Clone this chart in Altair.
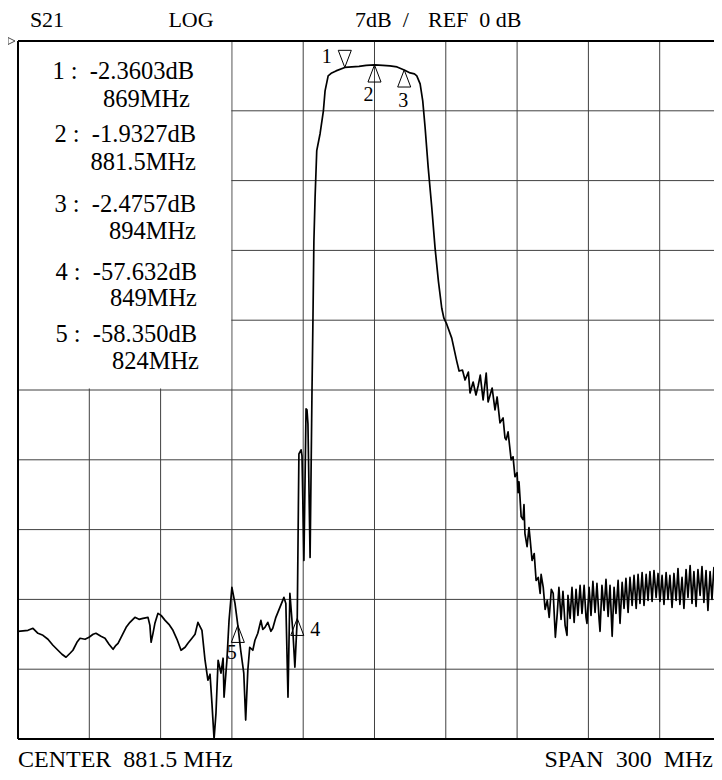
import altair as alt
import pandas as pd

# ---- trace ----
freq_mhz = [
    731.5, 735.7, 737.8, 739.9, 742.0, 744.1, 746.2, 748.3, 750.0, 751.7, 753.4, 754.6, 756.3, 757.6,
    759.7, 761.4, 763.1, 764.3, 766.4, 768.1, 769.8, 771.5, 772.7, 773.6, 775.3, 777.0, 778.6, 780.7,
    782.4, 784.1, 786.2, 787.0, 787.5, 788.3, 789.1, 790.4, 791.7, 793.4, 795.0, 796.7, 798.4, 800.1,
    801.8, 803.0, 804.7, 806.0, 807.2, 808.9, 810.2, 811.4, 812.3, 813.1, 814.0, 814.8, 815.7, 816.9,
    817.8, 818.2, 819.4, 820.3, 821.5, 822.8, 824.0, 825.2, 826.5, 827.3, 828.2, 829.0, 830.3, 831.2,
    832.4, 833.7, 834.5, 835.4, 836.6, 837.9, 838.7, 840.0, 841.7, 843.4, 844.2, 845.1, 845.9, 847.2,
    848.0, 849.0, 849.7, 850.6, 851.0, 851.8, 852.7, 853.1, 853.5, 854.4, 855.2, 855.6, 856.0, 856.5,
    857.2, 858.6, 860.0, 860.7, 862.0, 863.5, 865.3, 869.0, 872.0, 875.0, 878.0, 881.5, 885.0, 888.0,
    891.0, 894.0, 896.5, 898.3, 899.3, 900.7, 901.8, 902.8, 904.1, 905.6, 907.0, 908.4, 909.8, 910.7,
    911.9, 914.0, 916.1, 917.1, 918.5, 919.6, 921.0, 921.7, 923.0, 924.2, 925.1, 926.0, 927.2, 928.5,
    929.3, 931.0, 932.2, 933.1, 934.3, 935.6, 936.4, 936.9, 937.7, 939.0, 939.8, 940.6, 941.5, 941.9,
    942.3, 942.7, 943.2, 944.0, 944.4, 944.8, 945.7, 946.5, 947.0, 947.8, 948.7, 949.5, 950.4, 951.2,
    951.6, 952.5, 953.3, 954.2, 955.0, 955.9, 956.7, 957.6, 958.4,
    959.1, 960.0, 960.8, 961.7, 962.5, 962.9, 963.8, 964.6, 965.5, 966.3, 967.1, 968.0, 968.8, 969.7,
    970.5, 970.9, 971.8, 972.6, 973.4, 974.3, 975.1, 976.0, 976.4, 977.2, 978.1, 978.9, 979.8, 980.6,
    981.5, 982.3, 983.1, 984.0, 984.8, 985.7, 986.5, 987.3, 988.2, 989.0, 989.9, 990.7, 991.6, 992.4,
    993.2, 994.1, 994.9, 995.8, 996.6, 997.4, 998.3, 999.1, 1000.0, 1000.8, 1001.6, 1002.5, 1003.3,
    1004.2, 1005.0, 1005.8, 1006.7, 1007.5, 1008.4, 1009.2, 1010.0, 1010.9, 1011.7, 1012.6, 1013.4,
    1014.3, 1015.1, 1015.9, 1016.8, 1017.6, 1018.5, 1019.3, 1020.1, 1021.0, 1021.8, 1022.7, 1023.5,
    1024.3, 1025.2, 1026.0, 1026.8, 1027.7, 1028.5,
]
s21_db = [
    -59.2, -59.1, -58.9, -59.4, -59.6, -60.0, -60.6, -61.1, -61.5, -61.8, -61.4, -61.1, -60.3, -59.9,
    -60.0, -59.8, -59.5, -59.4, -59.7, -59.9, -60.5, -61.0, -60.6, -60.4, -59.6, -58.8, -58.3, -57.8,
    -58.0, -57.9, -57.8, -58.6, -60.3, -59.4, -58.4, -57.4, -57.6, -58.1, -58.5, -59.1, -60.0, -61.1,
    -60.8, -60.4, -59.9, -59.5, -58.3, -59.1, -62.1, -64.1, -63.5, -66.4, -70.0, -67.4, -62.1, -63.4,
    -61.9, -65.8, -62.1, -58.1, -54.8, -56.4, -58.6, -61.1, -63.4, -68.1, -63.1, -60.8, -61.1, -60.1,
    -59.4, -58.1, -59.0, -58.8, -58.3, -59.2, -58.9, -57.8, -56.8, -55.8, -56.4, -65.8, -55.4, -59.4,
    -62.8, -57.9, -41.4, -41.0, -41.6, -52.1, -36.9, -37.0, -38.4, -51.8, -35.1, -28.0, -20.1, -15.7,
    -11.0, -9.3, -7.0, -5.0, -3.5, -3.2, -3.0, -2.65, -2.6, -2.55, -2.45, -2.4, -2.45, -2.5,
    -2.6, -2.9, -3.2, -3.3, -3.5, -4.3, -6.0, -8.7, -12.7, -16.7, -20.8, -24.1, -26.8, -27.8,
    -28.4, -29.8, -32.1, -33.1, -33.0, -34.0, -33.2, -35.3, -34.2, -35.5, -34.6, -33.5, -36.0, -33.3,
    -36.2, -34.8, -37.0, -35.7, -38.3, -37.8, -39.8, -40.0, -39.2, -42.0, -41.7, -43.7, -43.3, -45.3,
    -44.2, -45.7, -47.7, -48.0, -46.5, -49.4, -50.7, -48.8, -50.0, -52.1, -51.4, -54.1, -53.8, -55.4,
    -53.5, -54.8, -57.0, -56.1, -57.8, -55.0, -55.4, -59.8, -57.4,
    -54.8, -58.0, -55.2, -58.6, -59.6, -55.6, -57.9, -54.8, -58.3, -55.0, -57.6, -54.6, -57.4, -54.6,
    -57.8, -58.4, -54.8, -57.6, -54.2, -57.3, -54.4, -58.0, -59.2, -54.6, -57.1, -54.0, -57.7, -54.6,
    -59.7, -54.8, -57.4, -54.1, -58.4, -54.3, -56.9, -53.9, -57.3, -53.8, -56.6, -53.6, -56.9, -53.5,
    -56.4, -53.3, -56.6, -53.5, -56.1, -53.2, -56.2, -53.1, -55.8, -53.4, -56.2, -53.6, -56.5,
    -53.3, -56.0, -53.6, -56.8, -53.4, -56.1, -52.9, -56.5, -53.8, -56.9, -53.0, -55.8,
    -52.6, -56.4, -53.2, -56.7, -53.0, -55.6, -52.7, -56.3, -53.1, -57.1, -53.2, -56.0,
    -52.8, -55.7, -53.4, -55.9, -53.6, -55.5,
]

# ---- markers ----
marker_id = ["1", "2", "3", "4", "5"]
marker_freq = [869.0, 881.5, 894.0, 849.0, 824.0]
marker_tip_db = [-2.65, -2.4, -2.9, -57.9, -58.6]          # where the triangles sit on the trace
marker_db_label = ["-2.3603dB", "-1.9327dB", "-2.4757dB", "-57.632dB", "-58.350dB"]
marker_freq_label = ["869MHz", "881.5MHz", "894MHz", "849MHz", "824MHz"]

# ---- axes (30 MHz / div, 7 dB / div; right edge of the screen cut off) ----
f_start, f_visible_end = 731.5, 1024.35
db_ref, db_bottom = 0.0, -70.0
x_grid = [761.5, 791.5, 821.5, 851.5, 881.5, 911.5, 941.5, 971.5, 1001.5]
y_grid = [-63, -56, -49, -42, -35, -28, -21, -14, -7]

FONT = "Liberation Serif"
xs = alt.Scale(domain=[f_start, f_visible_end], nice=False, zero=False)
ys = alt.Scale(domain=[db_bottom, db_ref], nice=False, zero=False)


def X(field):
    return alt.X(field, scale=xs, axis=None)


def Y(field):
    return alt.Y(field, scale=ys, axis=None)


trace_df = pd.DataFrame({"f": freq_mhz, "db": s21_db})
mk_df = pd.DataFrame({"id": marker_id, "f": marker_freq, "db": marker_tip_db})
one_row = pd.DataFrame({"k": [0]})

# grid lines (rules spanning the plot)
vgrid_df = pd.DataFrame({"f": x_grid, "f2": x_grid,
                         "db": [db_ref] * len(x_grid), "db2": [db_bottom] * len(x_grid)})
hgrid_df = pd.DataFrame({"f": [f_start] * len(y_grid), "f2": [f_visible_end] * len(y_grid),
                         "db": y_grid, "db2": y_grid})
grid_df = pd.concat([vgrid_df, hgrid_df], ignore_index=True)
grid = alt.Chart(grid_df).mark_rule(color="#404040", strokeWidth=1).encode(
    x=X("f:Q"), x2="f2:Q", y=Y("db:Q"), y2="db2:Q")

# white readout box covering the upper-left grid cells (3 columns x 5 rows)
box_df = pd.DataFrame({"f": [f_start], "f2": [x_grid[2] - 0.3], "db": [db_ref], "db2": [y_grid[4] + 0.15]})
box = alt.Chart(box_df).mark_rect(color="white").encode(
    x=X("f:Q"), x2="f2:Q", y=Y("db:Q"), y2="db2:Q")

frame_df = pd.DataFrame({
    "f": [f_start, f_start, f_start],
    "f2": [f_visible_end, f_visible_end, f_start],
    "db": [db_ref, db_bottom, db_bottom],
    "db2": [db_ref, db_bottom, db_ref],
})
frame = alt.Chart(frame_df).mark_rule(color="black", strokeWidth=2).encode(
    x=X("f:Q"), x2="f2:Q", y=Y("db:Q"), y2="db2:Q")

trace = alt.Chart(trace_df).mark_line(
    color="black", strokeWidth=1.7, clip=True, strokeJoin="round"
).encode(x=X("f:Q"), y=Y("db:Q"), order="f:Q")

ref_df = pd.DataFrame({"db": [db_ref]})
ref_mark = alt.Chart(ref_df).mark_point(
    shape="M-1,-1L1,0L-1,1Z", size=49, filled=False, color="black", strokeWidth=1
).encode(x=alt.value(-6.5), y=Y("db:Q"))

tri_down = "M-1.45,-3.8L1.45,-3.8L0,0Z"
tri_up = "M-1.45,3.8L1.45,3.8L0,0Z"

layers = [grid, box, frame, trace, ref_mark]

label_style = {
    "1": dict(shape=tri_down, dx=-18, dy=-10),
    "2": dict(shape=tri_up, dx=-6, dy=30),
    "3": dict(shape=tri_up, dx=-1, dy=31),
    "4": dict(shape=tri_up, dx=18, dy=12),
    "5": dict(shape=tri_up, dx=-6, dy=28),
}
for mid in marker_id:
    st = label_style[mid]
    sub = alt.Chart(mk_df).transform_filter(alt.datum.id == mid)
    layers.append(sub.mark_point(shape=st["shape"], size=81, filled=False, color="black",
                                 strokeWidth=1, opacity=1).encode(x=X("f:Q"), y=Y("db:Q")))
    layers.append(sub.mark_text(font=FONT, fontSize=20, color="black", dx=st["dx"], dy=st["dy"]).encode(
        x=X("f:Q"), y=Y("db:Q"), text="id:N"))

# readout text
NB = "\u00a0"
val_y = [31, 94, 164, 232, 294]
frq_y = [59, 122, 191, 258, 321]
val_r = [176, 178, 178, 179, 179]
frq_r = [172, 178, 178, 179, 181]
for i, mid in enumerate(marker_id):
    layers.append(alt.Chart(one_row).mark_text(
        font=FONT, fontSize=24.5, color="black", align="right", baseline="middle",
        x=val_r[i], y=val_y[i]).encode(text=alt.value(f"{mid}{NB}:{NB}{NB}{marker_db_label[i]}")))
    layers.append(alt.Chart(one_row).mark_text(
        font=FONT, fontSize=24.5, color="black", align="right", baseline="middle",
        x=frq_r[i], y=frq_y[i]).encode(text=alt.value(marker_freq_label[i])))

header = [
    ("S21", 29, "center"),
    ("LOG", 173, "center"),
    (f"7dB{NB}{NB}/", 337, "left"),
    (f"REF{NB}{NB}0{NB}dB", 410, "left"),
]
for txt, xx, al in header:
    layers.append(alt.Chart(one_row).mark_text(
        font=FONT, fontSize=22, color="black", align=al, baseline="middle", x=xx, y=-21
    ).encode(text=alt.value(txt)))

footer = [
    (f"CENTER{NB}{NB}881.5{NB}MHz", 0, "left"),
    (f"SPAN{NB}{NB}300{NB}{NB}MHz", 695, "right"),
]
for txt, xx, al in footer:
    layers.append(alt.Chart(one_row).mark_text(
        font=FONT, fontSize=24, color="black", align=al, baseline="middle", x=xx, y=719
    ).encode(text=alt.value(txt)))

chart = alt.layer(*layers).properties(
    width=696, height=698,
    padding={"left": 10, "top": 33, "right": 0, "bottom": 33},
    autosize=alt.AutoSizeParams(type="none"),
    background="white",
).configure_view(stroke=None)

chart.save("out.html", embed_options={"renderer": "svg", "actions": False})
